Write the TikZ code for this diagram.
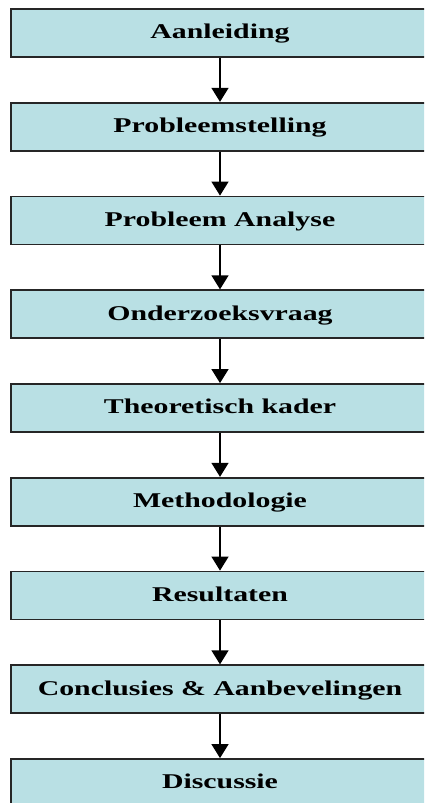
\documentclass[tikz,border=0pt]{standalone}
\usepackage{fontspec}
\setmainfont[FakeStretch=1.42]{Liberation Serif}
\usepackage{tikz}
\usetikzlibrary{arrows.meta, positioning}
\definecolor{blokblauw}{RGB}{185,224,228}

\begin{document}
\begin{tikzpicture}[x=1pt, y=1pt, ->, >={Triangle[width=17pt,length=14pt]}, line width=1.4pt, node distance=93.75pt,
  blok/.style={draw=black!85, fill=blokblauw, line width=1.8pt, minimum width=418pt, minimum height=48pt, inner sep=0pt, text height=16pt, text depth=4pt, font=\fontsize{21}{24}\selectfont\bfseries}]
		\clip (0,0) rectangle (424,803);
		\node[blok]	(aanl) at (220,770)		{Aanleiding};
		\node[blok]	(prst)[below of=aanl]	{Probleemstelling};
		\node[blok]	(pran)[below of=prst]	{Probleem Analyse};
		\node[blok]	(ovrg)[below of=pran]	{Onderzoeksvraag};
		\node[blok]	(thkd)[below of=ovrg]	{Theoretisch kader};
		\node[blok]	(meth)[below of=thkd]	{Methodologie};
		\node[blok]	(resu)[below of=meth]	{Resultaten};
		\node[blok]	(conc)[below of=resu]	{Conclusies \& Aanbevelingen};
		\node[blok]	(disc)[below of=conc]	{Discussie};
		\path
		(aanl)	edge	(prst)
		(prst)	edge	(pran)
		(pran)	edge	(ovrg)
		(ovrg)	edge	(thkd)
		(thkd)	edge	(meth)
		(meth)	edge	(resu)
		(resu)	edge	(conc)
		(conc)	edge	(disc);
\end{tikzpicture}
\end{document}
